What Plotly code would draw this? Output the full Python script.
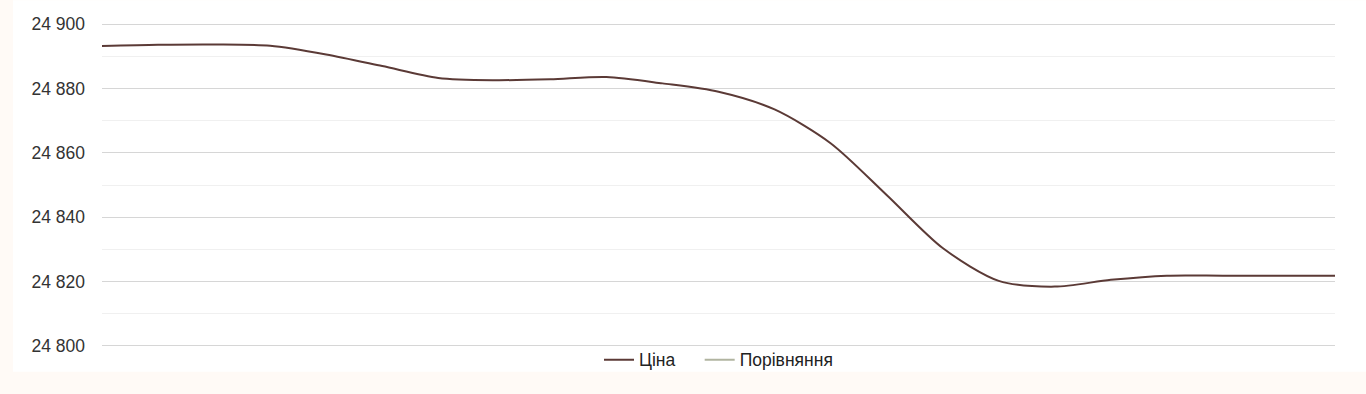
import plotly.graph_objects as go

points = list(range(23))
price = [24893.2, 24893.6, 24893.7, 24893.3, 24890.6, 24887.0, 24883.3, 24882.6,
         24882.9, 24883.6, 24881.6, 24879.0, 24873.5, 24863.0, 24846.9, 24830.4,
         24820.2, 24818.4, 24820.5, 24821.8, 24821.8, 24821.8, 24821.8]
comparison = []  # empty series, only in legend

series_names = ["Ціна", "Порівняння"]
y_ticks = [24800, 24820, 24840, 24860, 24880, 24900]
y_tick_labels = ["24 800", "24 820", "24 840", "24 860", "24 880", "24 900"]

# pixel geometry: 24900 at y=24, 24800 at y=346; pad range by 1 unit each side
ppu = (346 - 24) / 100.0
pad = 1.0
L, R = 102, 1366 - 1335
T = 24 - pad * ppu
B = 394 - (346 + pad * ppu)
pw, ph = 1366 - L - R, 394 - T - B

fig = go.Figure()
fig.add_trace(go.Scatter(
    x=points, y=price, mode="lines", name=series_names[0] + "\u00a0" * 4,
    line=dict(color="#5b3a36", width=2, shape="spline", smoothing=0.8),
))
fig.add_trace(go.Scatter(
    x=[None], y=[None], mode="lines", name=series_names[1],
    line=dict(color="#b1b4a0", width=2),
))

fig.add_shape(type="rect", xref="paper", yref="paper", layer="below",
              x0=(13 - L) / pw, x1=(1366 - L) / pw,
              y0=(394 - B - 372) / ph, y1=(394 - B) / ph,
              fillcolor="white", line=dict(width=0))

fig.update_layout(
    width=1366, height=394,
    margin=dict(l=L, r=R, t=T, b=B),
    paper_bgcolor="#fffaf6",
    plot_bgcolor="rgba(0,0,0,0)",
    font=dict(family="Liberation Sans, Arial, sans-serif", size=17.5, color="#333333"),
    showlegend=True,
    legend=dict(orientation="h", x=0.5, xanchor="center",
                y=(394 - B - 360) / ph, yanchor="middle",
                font=dict(size=17.5, color="#222222"),
                bgcolor="rgba(0,0,0,0)", itemwidth=30),
    xaxis=dict(range=[0, 22], showgrid=False, zeroline=False, showticklabels=False,
               showline=False, fixedrange=True),
    yaxis=dict(range=[24800 - pad, 24900 + pad], tickvals=y_ticks, ticktext=y_tick_labels,
               showgrid=True, gridcolor="#d6d6d6", gridwidth=1, zeroline=False,
               showline=False, ticks="", ticklabelstandoff=16,
               tickfont=dict(size=17.5, color="#333333"),
               minor=dict(tickvals=[24810, 24830, 24850, 24870, 24890], showgrid=True,
                          gridcolor="#f0f0f0", gridwidth=1)),
)

fig.write_html("out.html")
